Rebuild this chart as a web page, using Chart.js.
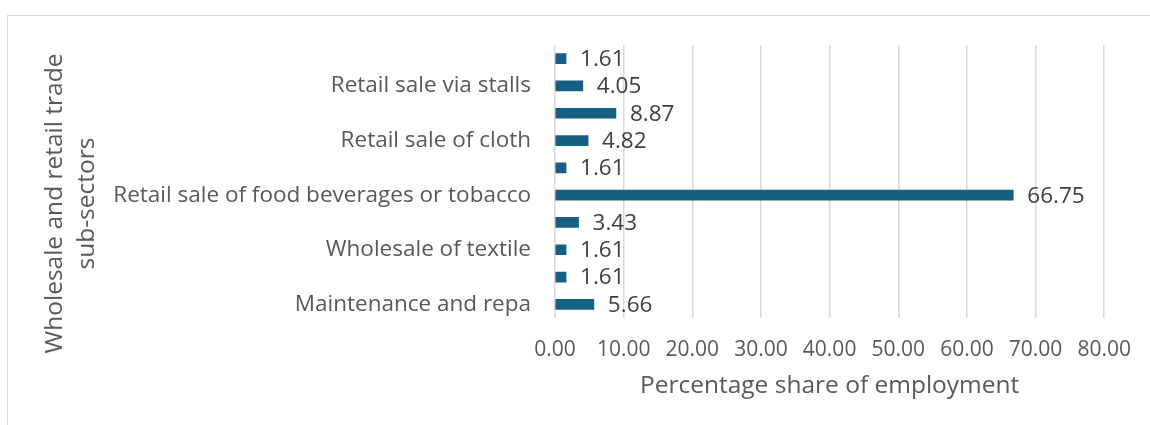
<!DOCTYPE html>
<html>
<head>
<meta charset="utf-8">
<script src="https://cdn.jsdelivr.net/npm/chart.js@4.4.1/dist/chart.umd.min.js"></script>
<style>
html,body{margin:0;padding:0;background:#fff;overflow:hidden;width:1150px;height:425px;}
#frame{position:absolute;left:7px;top:15px;width:1200px;height:500px;border:1px solid #d9d9d9;box-sizing:border-box;}
#c{position:absolute;left:0;top:0;}
</style>
</head>
<body>
<div id="frame"></div>
<canvas id="c" width="1150" height="425"></canvas>
<script>
// Categories listed top to bottom (labels Excel skipped are unknown -> blank)
const categories = [
  '',
  'Retail sale via stalls',
  '',
  'Retail sale of cloth',
  '',
  'Retail sale of food beverages or tobacco',
  '',
  'Wholesale of textile',
  '',
  'Maintenance and repa'
];
const shares = [1.61, 4.05, 8.87, 4.82, 1.61, 66.75, 3.43, 1.61, 1.61, 5.66];
const xTickValues = [0, 10, 20, 30, 40, 50, 60, 70, 80];
const xTitle = 'Percentage share of employment';
const yTitle = ['Wholesale and retail trade', 'sub-sectors'];

const FONT = '"Open Sans", sans-serif';

const valueLabels = {
  id: 'valueLabels',
  afterDatasetsDraw(chart) {
    const ctx = chart.ctx;
    const meta = chart.getDatasetMeta(0);
    const data = chart.data.datasets[0].data;
    ctx.save();
    ctx.font = '22.5px ' + FONT;
    ctx.fillStyle = '#404040';
    ctx.textBaseline = 'middle';
    ctx.textAlign = 'left';
    meta.data.forEach((bar, i) => {
      ctx.fillText(Number(data[i]).toFixed(2), bar.x + 14, bar.y + 1);
    });
    ctx.restore();
  }
};

new Chart(document.getElementById('c'), {
  type: 'bar',
  data: {
    labels: categories,
    datasets: [{
      data: shares,
      backgroundColor: '#156082',
      borderWidth: 0,
      barThickness: 10
    }]
  },
  options: {
    indexAxis: 'y',
    responsive: false,
    animation: false,
    devicePixelRatio: 1,
    layout: { padding: { left: 0, top: 45, right: 44, bottom: 24 } },
    plugins: {
      legend: { display: false },
      tooltip: { enabled: false }
    },
    scales: {
      x: {
        min: 0,
        max: 80,
        afterBuildTicks(scale) { scale.ticks = xTickValues.map(v => ({ value: v })); },
        afterFit(scale) { scale.height = 83; },
        ticks: {
          color: '#595959',
          font: { family: FONT, size: 21 },
          padding: 19,
          maxRotation: 0,
          callback: v => Number(v).toFixed(2)
        },
        grid: { color: '#d9d9d9', lineWidth: 1.5, drawTicks: false, tickLength: 0 },
        border: { display: false },
        title: {
          display: true,
          text: xTitle,
          color: '#595959',
          font: { family: FONT, size: 24.5, lineHeight: 1.2 },
          padding: { top: 0, bottom: 0 }
        }
      },
      y: {
        afterFit(scale) {
          scale.width = 555;
          if (!scale._shiftWrapped) {
            const orig = scale.drawTitle;
            scale.drawTitle = function () {
              this.ctx.save();
              this.ctx.translate(0, 22);
              orig.apply(this, arguments);
              this.ctx.restore();
            };
            scale._shiftWrapped = true;
          }
        },
        ticks: {
          color: '#595959',
          font: { family: FONT, size: 22.5 },
          padding: 24,
          autoSkip: false
        },
        grid: { display: false, drawTicks: false, tickLength: 0 },
        border: { display: false },
        title: {
          display: true,
          text: yTitle,
          color: '#595959',
          font: { family: FONT, size: 24.5, lineHeight: 1.3 },
          padding: { top: 39, bottom: 0 }
        }
      }
    }
  },
  plugins: [valueLabels]
});
</script>
</body>
</html>
